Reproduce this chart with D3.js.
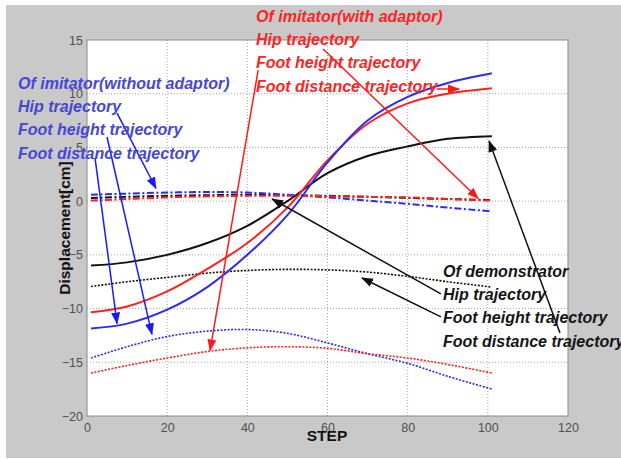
<!DOCTYPE html>
<html><head><meta charset="utf-8">
<script src="https://cdn.jsdelivr.net/npm/d3@7"></script>
<style>html,body{margin:0;padding:0;background:#fff;}svg{display:block;}</style>
</head><body>
<svg id="c" width="621" height="459"></svg>
<script>
// ---- data ----
const steps = [1, 10, 20, 30, 40, 50, 60, 70, 80, 90, 101];
const demoFootDist   = [-6.0, -5.7, -5.0, -3.9, -2.3, 0.0, 2.6, 4.2, 5.1, 5.8, 6.05];
const demoFootHeight = [-7.95, -7.5, -7.1, -6.7, -6.45, -6.35, -6.4, -6.6, -7.0, -7.5, -8.0];
const demoHip        = [0.3, 0.4, 0.5, 0.55, 0.6, 0.55, 0.5, 0.4, 0.3, 0.2, 0.1];
const noAdFootDist   = [-11.85, -11.4, -10.1, -8.0, -5.0, -1.3, 3.6, 7.5, 9.7, 11.0, 11.9];
const noAdFootHeight = [-14.6, -13.55, -12.6, -12.1, -11.95, -12.3, -13.2, -14.2, -15.1, -16.3, -17.5];
const noAdHip        = [0.6, 0.7, 0.8, 0.85, 0.8, 0.6, 0.35, 0.05, -0.25, -0.6, -0.95];
const adFootDist     = [-10.35, -9.8, -8.4, -6.3, -3.9, -0.6, 3.8, 7.2, 9.1, 10.0, 10.5];
const adFootHeight   = [-16.0, -15.3, -14.6, -14.0, -13.65, -13.55, -13.7, -14.2, -14.6, -15.2, -16.0];
const adHip          = [0.05, 0.2, 0.35, 0.45, 0.5, 0.5, 0.45, 0.4, 0.35, 0.2, 0.05];

const xTicks = [0, 20, 40, 60, 80, 100, 120];
const yTicks = [-20, -15, -10, -5, 0, 5, 10, 15];

const blueLabels  = ["Of imitator(without adaptor)", "Hip trajectory", "Foot height trajectory", "Foot distance trajectory"];
const redLabels   = ["Of imitator(with adaptor)", "Hip trajectory", "Foot height trajectory", "Foot distance trajectory"];
const blackLabels = ["Of demonstrator", "Hip trajectory", "Foot height trajectory", "Foot distance trajectory"];

// arrows in data units: [x1, y1, x2, y2]
const redArrows   = [[58.9, 14.16, 97.6, 0.25], [42.7, 12.2, 30.7, -13.9], [87.3, 10.44, 92.8, 10.44]];
const blueArrows  = [[7.5, 8.2, 17.2, 1.2], [5.0, 5.97, 16.2, -12.4], [2.0, 4.02, 7.5, -11.4]];
const blackArrows = [[88.3, -8.64, 46.2, 0.2], [88.3, -10.78, 68.6, -7.15], [118.0, -12.27, 100.3, 5.6]];

// ---- layout ----
const svg = d3.select("#c");
const L = 87, R = 568, T = 40, B = 416;
const x = d3.scaleLinear().domain([0, 120]).range([L, R]);
const y = d3.scaleLinear().domain([-20, 15]).range([B, T]);

svg.append("rect").attr("x", 6).attr("y", 5).attr("width", 615).attr("height", 453).attr("fill", "#c9c9c9");
svg.append("rect").attr("x", L).attr("y", T).attr("width", R - L).attr("height", B - T).attr("fill", "#fff");

// grid
const grid = svg.append("g");
grid.selectAll(".gx").data(xTicks.slice(1, -1)).join("line")
  .attr("x1", d => x(d)).attr("x2", d => x(d)).attr("y1", T).attr("y2", B)
  .attr("stroke", "#a8a8a8").attr("stroke-width", 1).attr("stroke-dasharray", "1,2");
grid.selectAll(".gy").data(yTicks.slice(1, -1)).join("line")
  .attr("y1", d => y(d)).attr("y2", d => y(d)).attr("x1", L).attr("x2", R)
  .attr("stroke", "#a8a8a8").attr("stroke-width", 1).attr("stroke-dasharray", "1,2");

// axes
const ax = svg.append("g").attr("transform", `translate(0,${B})`)
  .call(d3.axisBottom(x).tickValues(xTicks).tickSize(0).tickPadding(5).tickFormat(d3.format("d")));
const ay = svg.append("g").attr("transform", `translate(${L},0)`)
  .call(d3.axisLeft(y).tickValues(yTicks).tickSize(0).tickPadding(4).tickFormat(d3.format("d")));
[ax, ay].forEach(a => {
  a.select(".domain").remove();
  a.selectAll("text").attr("font-family", "Liberation Sans, Arial, sans-serif").attr("font-size", 12.5).attr("fill", "#505050");
});
ax.selectAll("text").attr("dy", "0.9em");
svg.append("rect").attr("x", L).attr("y", T).attr("width", R - L).attr("height", B - T)
  .attr("fill", "none").attr("stroke", "#8a8a8a").attr("stroke-width", 1);

// curves
const line = d3.line().x(d => x(d[0])).y(d => y(d[1])).curve(d3.curveCatmullRom.alpha(0.5));
const series = [
  {v: noAdFootHeight, c: "#2a2aff", dash: "2,1.5", w: 1.6},
  {v: adFootHeight,   c: "#ff2020", dash: "2,1.5", w: 1.6},
  {v: demoFootHeight, c: "#111",    dash: "2,1.5", w: 1.6},
  {v: demoHip,        c: "#111",    dash: "7,2.5,2,2.5", w: 2},
  {v: noAdHip,        c: "#2a2aff", dash: "7,2.5,2,2.5", w: 2},
  {v: adHip,          c: "#ff2020", dash: "7,2.5,2,2.5", w: 2},
  {v: demoFootDist,   c: "#111",    dash: null, w: 2},
  {v: adFootDist,     c: "#ff2020", dash: null, w: 2},
  {v: noAdFootDist,   c: "#2a2aff", dash: null, w: 2}
];
svg.append("g").selectAll("path").data(series).join("path")
  .attr("d", s => line(steps.map((st, i) => [st, s.v[i]])))
  .attr("fill", "none").attr("stroke", s => s.c).attr("stroke-width", s => s.w)
  .attr("stroke-dasharray", s => s.dash);

// arrow markers
const defs = svg.append("defs");
[["red", "#ff1a1a"], ["blue", "#1a1aff"], ["black", "#111"]].forEach(([n, c]) => {
  defs.append("marker").attr("id", "ah-" + n).attr("markerUnits", "userSpaceOnUse")
    .attr("markerWidth", 12).attr("markerHeight", 10).attr("refX", 11).attr("refY", 4.5)
    .attr("orient", "auto").attr("viewBox", "0 0 12 9")
    .append("path").attr("d", "M0,0 L12,4.5 L0,9 Z").attr("fill", c);
});
function arrows(data, n, c) {
  svg.append("g").selectAll("line").data(data).join("line")
    .attr("x1", d => x(d[0])).attr("y1", d => y(d[1]))
    .attr("x2", d => x(d[2])).attr("y2", d => y(d[3]))
    .attr("stroke", c).attr("stroke-width", 1.5).attr("marker-end", `url(#ah-${n})`);
}
arrows(redArrows, "red", "#ff1a1a");
arrows(blueArrows, "blue", "#1a1aff");
arrows(blackArrows, "black", "#111");

// annotation texts
function block(labels, px, py, color) {
  svg.append("g").selectAll("text").data(labels).join("text")
    .attr("x", px).attr("y", (d, i) => py + i * 23.2)
    .attr("font-family", "Liberation Sans, Arial, sans-serif").attr("font-size", 16)
    .attr("font-weight", "bold").attr("font-style", "italic").attr("fill", color)
    .text(d => d);
}
block(blueLabels, 18, 89, "#4646d8");
block(redLabels, 256, 22, "#ff2424");
block(blackLabels, 443, 277, "#141414");

// axis titles
svg.append("text").attr("x", 327).attr("y", 441).attr("text-anchor", "middle")
  .attr("font-family", "Liberation Sans, Arial, sans-serif").attr("font-size", 15.5).attr("font-weight", "bold")
  .attr("fill", "#111").text("STEP");
svg.append("text").attr("transform", "translate(70,228) rotate(-90)").attr("text-anchor", "middle")
  .attr("font-family", "Liberation Sans, Arial, sans-serif").attr("font-size", 15.5).attr("font-weight", "bold")
  .attr("fill", "#111").text("Displacement[cm]");
</script>
</body></html>
